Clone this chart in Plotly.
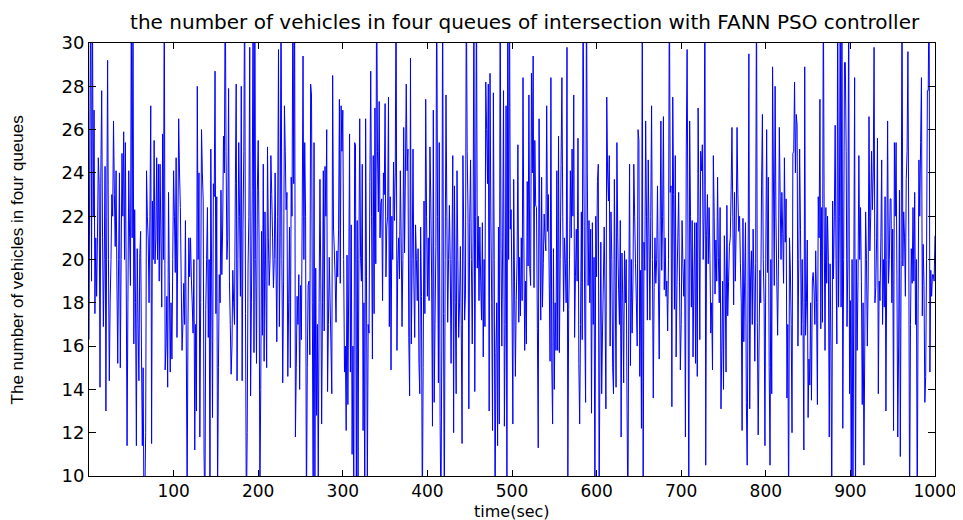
import numpy as np
import plotly.graph_objects as go

# ---------------- text ----------------
title_text = "the number of vehicles in four queues of intersection with FANN PSO controller"
x_label = "time(sec)"
y_label = "The number of vehicles in four queues"
x_tick_values = [100, 200, 300, 400, 500, 600, 700, 800, 900, 1000]
y_tick_values = [10, 12, 14, 16, 18, 20, 22, 24, 26, 28, 30]

# ------------- data (one value per second) -------------
start_a = 0
queue_a = [16.3, 25.7, 33, 19, 33, 22, 26.9, 17.5, 21, 18.3,
           21, 24.7, 23.5, 14.1, 24, 27.8, 21, 16.9, 20, 24.3,
           13, 22, 29.2, 20, 14.4, 18, 20, 23, 22, 26.4,
           23, 20.6, 24.1, 19, 15.2, 20, 24, 15, 20, 24.9,
           22, 25.9, 20, 25.4, 19, 11.4, 18, 24.1, 21, 18.8,
           32, 21, 32, 16.1, 22.3, 18, 11.4, 20.5, 17, 14.4,
           20.1, 21.3, 16, 11.4, 15, 8, 9, 12, 24.1, 22,
           20.9, 18, 22, 27.1, 11.5, 22.7, 20, 25.5, 19.8, 21,
           24.7, 20, 24.4, 19, 24.4, 21, 17.8, 25.8, 20, 33,
           14.9, 16, 18.3, 14.1, 23.1, 19, 14.8, 18, 15.4, 20,
           24.1, 22, 19.4, 24.7, 16.4, 21, 26.5, 24, 22.4, 19,
           15.8, 17, 18.9, 17, 21.8, 16, 9, 17, 21, 19.2,
           21, 19.1, 18, 16.6, 20, 11.2, 17, 13, 28, 20,
           24, 11.8]

start_b = 132
queue_b = [18, 26, 24, 22.7, 11, 8, 17.7, 20, 22.4, 16.4,
           20, 8, 25.1, 19, 12.7, 23.5, 22.9, 28.7, 17.5, 22.9,
           9, 15, 19.3, 18, 23.2, 19.3, 21.5, 25.7, 24, 33,
           25, 20, 21, 27.9, 19, 17, 14.7, 16, 19.5, 18,
           17, 23.5, 28.1, 14.4, 20, 25.4, 22, 18.3, 28, 14.4,
           21.4, 25, 33, 17.5, 8, 12, 19.7, 22, 29.8, 13.7,
           18, 23.2, 33, 15.7, 33, 20, 15.2, 23.2, 25.5, 20.9,
           9, 14, 21.3, 16.5, 24.4, 15.3, 22.2, 19, 15, 25.2,
           21, 18.8, 20, 24.8, 23, 21, 18.7, 20, 24, 20,
           16.2, 22, 29.7, 16.9, 21, 33, 20, 14.3, 19, 27.1,
           25, 22.3, 23.1, 14.6, 18, 21.5, 15, 23.8, 22, 33,
           23.5, 33, 11.8, 15, 18.3, 17, 19.3, 14, 18.8, 16.3,
           22, 29.4, 20, 25.4, 22, 8, 15, 18.8]

start_c = 260
queue_c = [19, 15.6, 28.1, 27.6, 18, 8, 25.4, 9, 19.6, 12.8,
           17, 9.5, 18, 23.7, 19, 12.4, 18, 24.1, 16.7, 24.3,
           22, 26, 13.9, 17, 20.1, 18, 16, 13.8, 28.5, 21.5,
           20.4, 19, 17.1, 20.4, 19.2, 21.4, 27.4, 18.9, 27.1, 25,
           26.9, 20, 14.8, 16, 12.1, 20.2, 13.3, 19, 25.8, 14.8,
           21.6, 11, 16, 9, 25.4, 25.3, 8, 21.8, 9, 20,
           26.5, 20.1, 19, 24.4, 12.1, 18, 8, 26.5, 19.2, 9.5,
           17, 16.6, 23.6, 28.7, 22, 15.4, 24.8, 17.5, 27, 19.8,
           33, 25, 22.2, 27.3, 21, 22.6, 22.8, 18.1, 24, 23,
           27.2, 19.2, 21.5, 22, 27.5, 16.9, 22.9, 14.9, 22, 20,
           24.5, 21.8, 24, 33, 15.8, 19.8, 21, 19.1, 24.1, 21,
           16.9, 20, 26.1, 20.3, 24, 28.1, 24.1, 25.1, 16.4, 13.7,
           29.3, 16.1, 20, 25.1, 19, 16.4, 21.6, 20, 18.1, 20.5,
           15.2, 13.8]

start_d = 392
queue_d = [21.5, 18.3, 8, 15, 22.7, 17.5, 27.4, 22, 18.3, 21,
           18.1, 25.2, 22.8, 19, 12.3, 26.9, 13.4, 17, 20.6, 33,
           22, 14.3, 25.4, 12.7, 8, 16, 33, 17.5, 8, 20,
           27.6, 22, 17.1, 20, 22.5, 19.8, 15.2, 20, 24.8, 12,
           23.4, 18, 13.8, 24.1, 20, 16.4, 18, 20.6, 17, 11.5,
           24.8, 21, 17.2, 18.4, 33, 25, 22.2, 13.1, 21.7, 24.6,
           20, 16.1, 20.8, 33, 13.9, 22, 33, 19.6, 22, 18.1,
           21.5, 19, 17.2, 21.7, 15.5, 20, 16.9, 28.2, 26, 23.5,
           28.1, 13, 28.6, 22, 18, 12.1, 27.7, 20, 8, 15.7,
           18, 11.4, 21.5, 12.4, 33, 20.5, 16, 21, 27.8, 12.3,
           17, 27.1, 8, 33, 20, 33, 21.4, 22.3, 18, 12.4,
           23.7, 19, 14.6, 18.1, 20, 25.3, 17.1, 20.1, 17.4, 21,
           18.1, 28.4, 21, 15.8, 19, 16.1, 23.6, 19.7, 27.6, 19.6]

start_e = 522
queue_e = [18.8, 28.6, 24, 29.4, 18.7, 25.5, 22.5, 22.4, 16.8, 11.3,
           26.5, 21, 17.2, 23.8, 17.8, 19.8, 22.1, 21, 20.4, 27.1,
           21.3, 23, 19, 15.3, 28.4, 15.2, 12.4, 20.5, 14, 18,
           15.8, 24.1, 15.8, 25.7, 15.7, 20, 24.4, 28.4, 22, 17.6,
           21, 19.8, 18, 29.8, 9.5, 17.7, 20, 24.1, 21, 25.1,
           22, 27.6, 16.4, 19.2, 21.4, 19, 25.6, 15.2, 12.4, 17,
           22.2, 16.3, 33, 24, 17.3, 13.4, 33, 24, 18.8, 21.8,
           18, 21.4, 12.9, 21.7, 17, 20.1, 8, 22, 19.2, 23.6,
           24.4, 8.5, 16, 20.8, 13.8, 16.7, 19, 21.5, 18, 13.1,
           27.5, 24, 22.7, 24.8, 16, 22.2, 20, 15, 13.8, 23.7,
           19, 14.1, 25.4, 21, 18.6, 17, 21.8, 11.8, 20.3, 18,
           14.3, 20.4, 18, 20, 13.1, 8, 18, 24.4, 15.1, 20,
           16.6, 19, 24.4, 22, 19.8, 18, 16, 26, 25.5, 14.6]

start_f = 652
queue_f = [19.5, 12.2, 33, 8, 20.8, 19.5, 26.4, 22, 17.2, 24.6,
           21, 17.2, 22, 27.1, 20, 13.6, 18.7, 21, 18.9, 20,
           23.4, 19, 15.4, 21, 26.4, 19.5, 22, 26.6, 18.6, 21,
           18.3, 19, 16.7, 20, 33, 23.1, 23.4, 13.2, 27.5, 23,
           17.7, 24.8, 15.5, 18.8, 21, 23.1, 19, 14.9, 17, 21.8,
           19.8, 18.3, 20, 11.8, 25.1, 29.7, 20.9, 8, 26.4, 22,
           17.8, 21.8, 15.5, 19, 21.7, 15.2, 21.7, 14.6, 27, 22,
           16.3, 25, 24.1, 25.3, 20, 22, 33, 10.5, 21.1, 23,
           19.8, 22.4, 20, 16.6, 18, 14.9, 24.8, 22, 18.4, 20.9,
           19, 23.8, 20.1, 18, 22.4, 13.1, 15.8, 19, 14, 21.1,
           19, 14.8, 22.5, 17.4, 19, 20.6, 21, 23.2, 26.1, 22,
           17.9, 23.1, 19, 21.5, 26.1, 23, 21.3, 22, 19.8, 18,
           12.1, 21.9, 16.2, 19, 21.7, 13.4, 10.5, 18.6, 29.5, 13.1]

start_g = 782
queue_g = [19.1, 20.4, 17, 21.4, 19, 15.3, 19.8, 33, 17.1, 11.9,
           16, 19.5, 18, 23.4, 26.7, 20, 18, 11.4, 20.3, 26,
           19.4, 23.8, 15, 10.5, 20, 13.8, 28.9, 24, 18.8, 28,
           22, 19, 16.5, 20, 26.1, 22.9, 20, 23.1, 21.2, 18.9,
           24.7, 20.8, 22.8, 13.6, 17, 8, 21, 19.6, 17, 12,
           24.9, 25, 28.2, 24, 26.7, 26.2, 16, 20, 25.1, 21.4,
           16.5, 20, 17, 11.2, 28.9, 16.5, 18, 20.9, 12.7, 15.4,
           14.2, 18, 13.5, 19, 19.4, 18.6, 17, 20.4, 18, 13.3,
           22.9, 21, 27.4, 16.8, 22.4, 17.1, 33, 22, 15.8, 22.4,
           18.9, 22, 19.9, 11.8, 19.8, 16, 8, 22.7, 19.1, 22,
           26.2, 20, 16.1, 33, 17.8, 22, 33, 17.8, 33, 12.2,
           20, 29.1, 29.1, 25, 16.9, 20, 33, 13.8, 18.1, 9,
           20, 8, 19, 28.4, 8.5, 20, 15.8, 19, 24.8, 20,
           22.4]

start_h = 913
queue_h = [19, 13.3, 18, 10.5, 16, 22.2, 20, 16, 19, 26.6,
           20.4, 22, 25, 22.3, 24, 29.8, 18, 18.7, 21, 25.6,
           13.8, 19, 18.1, 21, 24.6, 17, 20, 17.8, 22.9, 13,
           20, 26.4, 18.9, 20, 22.8, 22.8, 18, 21.4, 12.1, 25.4,
           22, 25.4, 19.2, 11.8, 16, 23.2, 10.9, 20, 33, 19.7,
           22.2, 21, 18.3, 23.7, 25, 29.6, 21, 8, 17, 20.5,
           18.9, 22.4, 19, 23.1, 17, 20, 8, 18, 24.6, 22,
           25.4, 28.4, 17.4, 20.7, 18.8, 13.4, 14.6, 20, 27.8, 27.8,
           33, 14.8, 19.5, 18.3, 19.3, 19.3, 19, 21.1]

segment_starts = [start_a, start_b, start_c, start_d, start_e, start_f, start_g, start_h]
segment_values = [queue_a, queue_b, queue_c, queue_d, queue_e, queue_f, queue_g, queue_h]

time_s = np.concatenate([s + np.arange(len(v)) for s, v in zip(segment_starts, segment_values)])
vehicles = np.concatenate([np.asarray(v, dtype=float) for v in segment_values])

# ---------------- figure ----------------
fig = go.Figure(
    go.Scatter(
        x=time_s,
        y=vehicles,
        mode="lines",
        line=dict(color="#0000ff", width=1, simplify=False),
        hoverinfo="skip",
    )
)

sans = "DejaVu Sans, Liberation Sans, Arial, sans-serif"

fig.update_layout(
    width=955,
    height=512,
    margin=dict(l=81, r=28, t=35, b=44),
    paper_bgcolor="white",
    plot_bgcolor="white",
    showlegend=False,
    title=dict(
        text=title_text,
        x=0.541,
        xanchor="center",
        xref="container",
        y=0.973,
        yanchor="middle",
        yref="container",
        font=dict(family=sans, size=20, color="black"),
    ),
    xaxis=dict(
        range=[0, 1000],
        tickmode="array",
        tickvals=x_tick_values,
        ticktext=[str(v) for v in x_tick_values],
        ticks="inside",
        ticklen=6,
        tickcolor="black",
        tickwidth=1,
        showline=True,
        linecolor="black",
        linewidth=1,
        mirror="ticks",
        showgrid=False,
        zeroline=False,
        tickfont=dict(family=sans, size=17, color="black"),
        ticklabelstandoff=0,
        automargin=False,
    ),
    yaxis=dict(
        range=[10, 30],
        tickmode="array",
        tickvals=y_tick_values,
        ticktext=[str(v) for v in y_tick_values],
        ticks="inside",
        ticklen=7,
        tickcolor="black",
        tickwidth=1,
        showline=True,
        linecolor="black",
        linewidth=1,
        mirror="ticks",
        showgrid=False,
        zeroline=False,
        tickfont=dict(family=sans, size=18, color="black"),
        automargin=False,
    ),
    annotations=[
        dict(
            text=x_label,
            xref="paper", yref="paper",
            x=0.5, y=-0.081,
            xanchor="center", yanchor="middle",
            showarrow=False,
            font=dict(family=sans, size=16, color="black"),
        ),
        dict(
            text=y_label,
            xref="paper", yref="paper",
            x=-0.084, y=0.5,
            xanchor="center", yanchor="middle",
            textangle=-90,
            showarrow=False,
            font=dict(family="Liberation Sans, Arial, sans-serif", size=17, color="black"),
        ),
    ],
)

fig.write_html("out.html", include_plotlyjs=True, config={"displayModeBar": False})
